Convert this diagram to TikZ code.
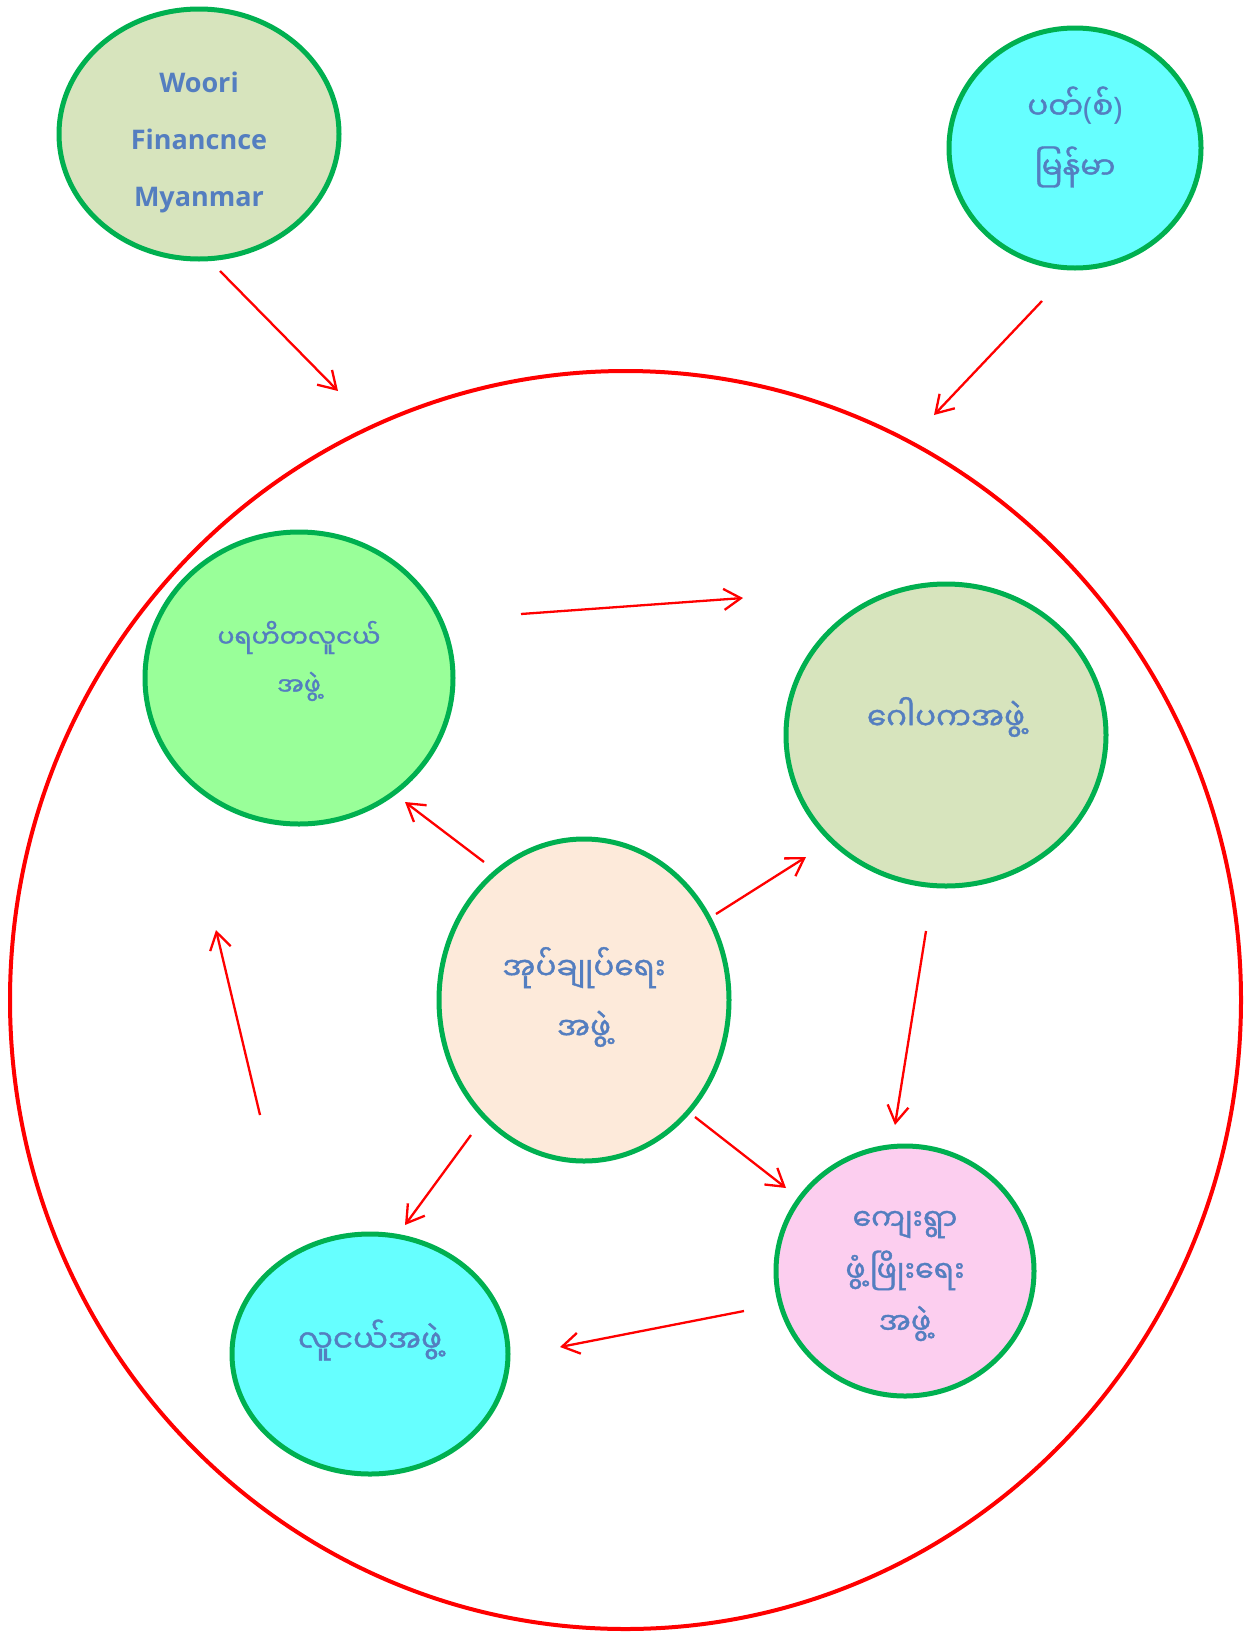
\documentclass[tikz,border=0pt]{standalone}
\usepackage{fontspec}
\setmainfont{Open Sans}
\newfontfamily\myfont[Script=Myanmar,FakeBold=1.2]{Noto Sans Myanmar UI}
\newfontfamily\parfont{Noto Sans}
\usetikzlibrary{shapes.geometric,arrows.meta}
\definecolor{txtblue}{RGB}{84,126,192}
\definecolor{gline}{RGB}{0,176,80}
\definecolor{olive}{RGB}{215,228,189}
\definecolor{cyanf}{RGB}{102,255,255}
\definecolor{greenf}{RGB}{153,255,153}
\definecolor{peach}{RGB}{253,234,218}
\definecolor{pinkf}{RGB}{252,206,239}
\tikzset{
  ell/.style={ellipse, draw=gline, line width=5pt, inner sep=0pt},
  bigring/.style={ellipse, draw=red, line width=4pt, inner sep=0pt},
  lat/.style={text=txtblue, font=\fontsize{27}{57}\selectfont\bfseries, align=center},
  mya/.style={text=txtblue, font=\myfont\fontsize{31}{60}\selectfont, align=center},
  myas/.style={text=txtblue, font=\myfont\fontsize{25}{48}\selectfont, align=center},
  arr/.style={draw=red, line width=2.3pt, -{Straight Barb[length=17pt,width=21pt,line width=2.3pt]}}
}
\begin{document}
\begin{tikzpicture}[x=1pt,y=-1pt]
\useasboundingbox (0,0) rectangle (1244,1633);
% big ring
\node[bigring, minimum width=1231pt, minimum height=1258pt] (ring) at (625.5,1000) {};
% outer nodes
\node[ell, fill=olive, minimum width=280pt, minimum height=250pt] (woori) at (199,134) {};
\node[lat] (wooriT) at ([yshift=-8pt]woori.center) {Woori\\Financnce\\Myanmar};
\node[ell, fill=cyanf, minimum width=252pt, minimum height=240pt] (pt) at (1075,148) {};
\node[mya] (ptT) at ([yshift=11pt]pt.center) {ပတ်{\parfont(}စ်{\parfont)}\\မြန်မာ};
% inner nodes
\node[ell, fill=greenf, minimum width=308pt, minimum height=292pt] (prh) at (299,678) {};
\node[myas] (prhT) at ([yshift=17pt]prh.center) {ပရဟိတလူငယ်\\အဖွဲ့};
\node[ell, fill=olive, minimum width=320pt, minimum height=302pt] (gop) at (946,735) {};
\node[mya] (gopT) at ([yshift=18pt]gop.center) {ဂေါပကအဖွဲ့};
\node[ell, fill=peach, minimum width=290pt, minimum height=322pt] (adm) at (584,1000) {};
\node[mya] (admT) at ([yshift=3pt]adm.center) {အုပ်ချုပ်ရေး\\အဖွဲ့};
\node[ell, fill=pinkf, minimum width=258pt, minimum height=250pt] (vil) at (905,1271) {};
\node[mya, font=\myfont\fontsize{30}{52}\selectfont] (vilT) at ([yshift=-5pt]vil.center) {ကျေးရွာ\\ဖွံ့ဖြိုးရေး\\အဖွဲ့};
\node[ell, fill=cyanf, minimum width=276pt, minimum height=240pt] (yth) at (370,1354) {};
\node[mya] (ythT) at ([yshift=14pt]yth.center) {လူငယ်အဖွဲ့};
% arrow end points
\coordinate (a1s) at (220,271);  \coordinate (a1e) at (338,391);
\coordinate (a2s) at (1042,301); \coordinate (a2e) at (934,415);
\coordinate (a3s) at (521,614);  \coordinate (a3e) at (743,598);
\coordinate (a4s) at (484,862);  \coordinate (a4e) at (405,802);
\coordinate (a5s) at (716,914);  \coordinate (a5e) at (806,857);
\coordinate (a6s) at (926,931);  \coordinate (a6e) at (895,1125);
\coordinate (a7s) at (695,1117); \coordinate (a7e) at (786,1188);
\coordinate (a8s) at (471,1135); \coordinate (a8e) at (405,1225);
\coordinate (a9s) at (744,1311); \coordinate (a9e) at (560,1347);
\coordinate (a10s) at (260,1115); \coordinate (a10e) at (216,930);
\foreach \i in {1,...,10} { \draw[arr] (a\i s) -- (a\i e); }
\end{tikzpicture}
\end{document}
